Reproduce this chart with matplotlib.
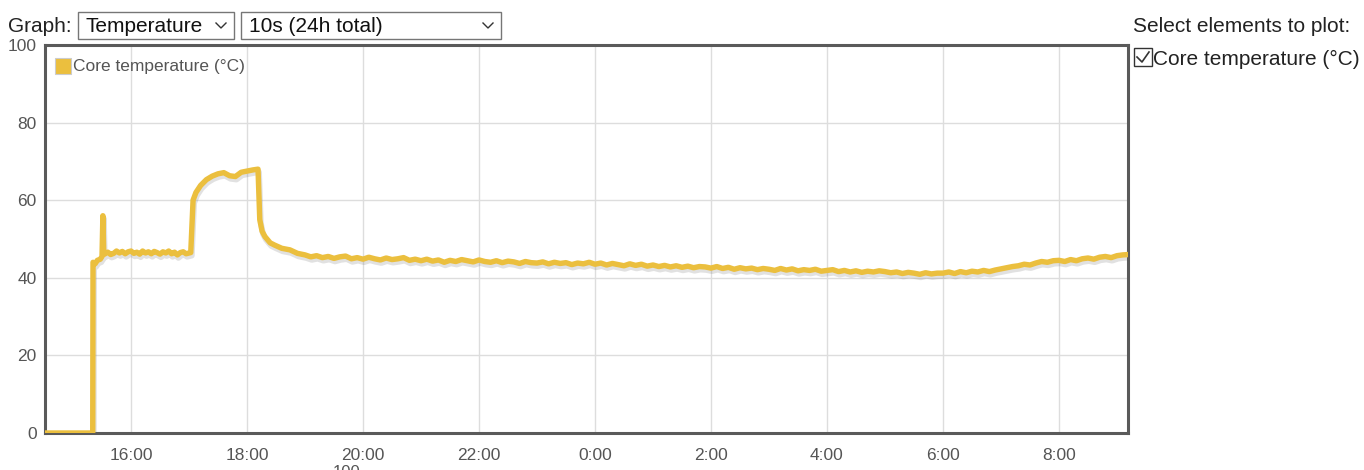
import numpy as np
import matplotlib
matplotlib.use("Agg")
import matplotlib.pyplot as plt
import matplotlib.transforms as mtransforms
from matplotlib.patches import Rectangle
from matplotlib.lines import Line2D

plt.rcParams['font.family'] = ['Liberation Sans', 'DejaVu Sans']

# hours since midnight of the first day (values > 24 are the next day)
start_times = [14.52, 15.34, 15.345, 15.38, 15.42, 15.47, 15.50, 15.515, 15.53, 15.6, 15.65, 15.7,
               15.75, 15.8, 15.85, 15.9, 15.95, 16.0, 16.05, 16.1, 16.15, 16.2, 16.25, 16.3,
               16.35, 16.4, 16.45, 16.5, 16.55, 16.6, 16.65, 16.7, 16.75, 16.8, 16.85, 16.9,
               16.95, 17.03, 17.07, 17.12, 17.2, 17.3, 17.4, 17.5, 17.6, 17.7, 17.8, 17.9, 18.0,
               18.1, 18.19, 18.22, 18.26, 18.31, 18.4, 18.48, 18.6, 18.74, 18.87]
start_temps = [0, 0, 44.0, 43.6, 44.5, 44.8, 45.5, 56.0, 46.0, 46.6, 46.0, 46.3,
               46.9, 46.4, 46.8, 46.2, 46.7, 46.9, 46.3, 46.6, 46.1, 46.9, 46.4, 46.7,
               46.2, 46.8, 46.5, 46.1, 46.7, 46.4, 46.9, 46.2, 46.6, 45.9, 46.5, 46.7,
               46.2, 46.5, 60.0, 62.0, 63.8, 65.3, 66.2, 66.8, 67.1, 66.3, 66.1, 67.2, 67.5,
               67.8, 68.0, 55.0, 52.0, 50.6, 49.0, 48.4, 47.6, 47.2, 46.3]

# 6-minute samples from 19:00 onwards
tail_start = 19.0
tail_step = 0.1
tail_temps = [45.9, 45.4, 45.7, 45.2, 45.5, 45.0, 45.4, 45.6, 44.9, 45.2,
              44.8, 45.3, 44.9, 44.6, 45.1, 44.7, 44.9, 45.2, 44.5, 44.8,
              44.4, 44.8, 44.3, 44.6, 44.0, 44.5, 44.2, 44.7, 44.4, 44.1,
              44.6, 44.2, 44.0, 44.4, 43.9, 44.3, 44.1, 43.7, 44.2, 43.9,
              43.8, 44.1, 43.6, 44.0, 43.7, 43.9, 43.4, 43.8, 43.6, 44.0,
              43.5, 43.8, 43.3, 43.7, 43.4, 43.1, 43.6, 43.2, 43.5, 43.0,
              43.3, 42.9, 43.2, 42.8, 43.1, 42.7, 43.0, 42.6, 42.9, 42.8,
              42.5, 42.9, 42.4, 42.7, 42.2, 42.6, 42.3, 42.5, 42.1, 42.4,
              42.2, 41.9, 42.4, 42.0, 42.3, 41.8, 42.1, 41.9, 42.2, 41.7,
              41.9, 42.1, 41.6, 41.9, 41.5, 41.8, 41.4, 41.7, 41.5, 41.8,
              41.6, 41.3, 41.5, 41.1, 41.4, 41.2, 40.9, 41.3, 41.0, 41.2,
              41.2, 41.5, 41.1, 41.6, 41.3, 41.7, 41.5, 41.9, 41.6, 42.0,
              42.3, 42.6, 42.9, 43.1, 43.5, 43.3, 43.8, 44.2, 44.0, 44.4,
              44.5, 44.2, 44.7, 44.4, 44.9, 45.1, 44.8, 45.3, 45.5, 45.2,
              45.7, 45.9, 46.0]

tick_hours = [16, 18, 20, 22, 24, 26, 28, 30, 32]
tick_labels = ['16:00', '18:00', '20:00', '22:00', '0:00', '2:00', '4:00', '6:00', '8:00']
y_ticks = [0, 20, 40, 60, 80, 100]

tail_times = list(np.round(tail_start + tail_step * np.arange(len(tail_temps)), 2))
times = start_times + tail_times
temps = start_temps + tail_temps

W, H = 1364, 470
fig = plt.figure(figsize=(W / 100, H / 100), dpi=100)

def fx(x):
    return x / W

def fy(y):
    return 1 - y / H

ax = fig.add_axes([fx(45), fy(433), fx(1128) - fx(45), fy(45) - fy(433)])
line_col = '#EBBF3E'
txt_col = '#555555'

# soft shadow under the line
shadow = mtransforms.offset_copy(ax.transData, fig=fig, x=1, y=-3, units='dots')
ax.plot(times, temps, color='#888888', lw=4.2, alpha=0.25, transform=shadow,
        solid_joinstyle='round', zorder=2)
ax.plot(times, temps, color=line_col, lw=3.9, solid_joinstyle='round', zorder=3)

ax.set_xlim(14.517, 33.19)
ax.set_ylim(0, 100)
ax.set_xticks(tick_hours)
ax.set_xticklabels(tick_labels)
ax.set_yticks(y_ticks)
ax.tick_params(length=0, labelsize=12.5, colors=txt_col)
ax.tick_params(axis='x', pad=11)
ax.tick_params(axis='y', pad=6)
ax.grid(True, color='#dddddd', lw=1)
ax.set_axisbelow(True)
for s in ax.spines.values():
    s.set_color('#5a5a5a')
    s.set_linewidth(2.2)

# legend inside the plot
fig.add_artist(Rectangle((fx(55), fy(74)), fx(16), fy(58) - fy(74), facecolor=line_col,
                         edgecolor='#cccccc', lw=0.8))
fig.text(fx(73), fy(66), 'Core temperature (°C)', fontsize=12.5, color=txt_col, va='center')

# top controls
fig.text(fx(8), fy(26), 'Graph:', fontsize=15, color='#222222', va='center')
for x0, x1, label in [(78, 234, 'Temperature'), (241, 501, '10s (24h total)')]:
    fig.add_artist(Rectangle((fx(x0), fy(39)), fx(x1 - x0), fy(12) - fy(39),
                             facecolor='white', edgecolor='#767676', lw=1))
    fig.text(fx(x0 + 8), fy(26), label, fontsize=15, color='#111111', va='center')
    cx = x1 - 13
    fig.add_artist(Line2D([fx(cx - 5), fx(cx), fx(cx + 5)], [fy(23), fy(28), fy(23)],
                          color='#333333', lw=1))

# right-hand panel
fig.text(fx(1133), fy(26), 'Select elements to plot:', fontsize=15, color='#222222', va='center')
fig.add_artist(Rectangle((fx(1134), fy(66)), fx(18), fy(48) - fy(66),
                         facecolor='white', edgecolor='#333333', lw=1))
fig.add_artist(Line2D([fx(1137), fx(1142), fx(1149)], [fy(57), fy(62), fy(52)],
                      color='#333333', lw=1.2))
fig.text(fx(1153), fy(59), 'Core temperature (°C)', fontsize=15, color='#222222', va='center')

# label cut off at the bottom edge, as in the page capture
fig.text(fx(347), fy(465), '100', fontsize=12, color=txt_col, ha='center', va='top')

fig.savefig('out.png', dpi=100)
